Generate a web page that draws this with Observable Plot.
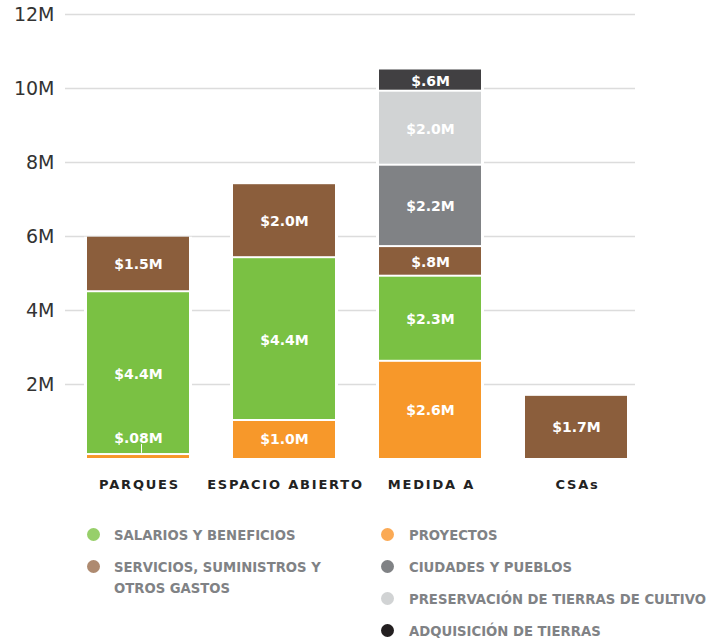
<!DOCTYPE html>
<html><head><meta charset="utf-8">
<script src="https://cdn.jsdelivr.net/npm/d3@7"></script>
<script src="https://cdn.jsdelivr.net/npm/@observablehq/plot@0.6"></script>
<style>
body{margin:0;background:#fff;}
#chart svg g[aria-label="x-axis tick label"]{letter-spacing:1.8px;}
.legend{position:relative;height:139px;width:708px;font-family:"DejaVu Sans Condensed","DejaVu Sans",sans-serif;font-weight:bold;font-size:14.7px;color:#808285;}
.ltext{position:absolute;white-space:pre;line-height:21px;}
.dot{position:absolute;width:13px;height:13px;border-radius:50%;}
</style></head>
<body><div id="chart"></div><div class="legend" id="legend"></div>
<script>
const categories = ["PARQUES", "ESPACIO ABIERTO", "MEDIDA A", "CSAs"];
const series = ["PROYECTOS", "SALARIOS Y BENEFICIOS", "SERVICIOS, SUMINISTROS Y OTROS GASTOS", "CIUDADES Y PUEBLOS", "PRESERVACIÓN DE TIERRAS DE CULTIVO", "ADQUISICIÓN DE TIERRAS"];
const barColors = ["#F7982A", "#7AC143", "#8B5E3C", "#808285", "#D1D3D4", "#414042"];
const legendColors = ["#FBAA55", "#97CF6A", "#AE8A70", "#808285", "#D1D3D4", "#231F20"];
// values in millions, per category (same order as categories)
const proyectos    = [0.08, 1.0, 2.6, 0];
const salarios     = [4.4, 4.4, 2.3, 0];
const servicios    = [1.5, 2.0, 0.8, 1.68];
const ciudades     = [0, 0, 2.2, 0];
const preservacion = [0, 0, 2.0, 0];
const adquisicion  = [0, 0, 0.6, 0];
const proyectosLbl    = ["$.08M", "$1.0M", "$2.6M", ""];
const salariosLbl     = ["$4.4M", "$4.4M", "$2.3M", ""];
const serviciosLbl    = ["$1.5M", "$2.0M", "$.8M", "$1.7M"];
const ciudadesLbl     = ["", "", "$2.2M", ""];
const preservacionLbl = ["", "", "$2.0M", ""];
const adquisicionLbl  = ["", "", "$.6M", ""];
const yTicks = [2, 4, 6, 8, 10, 12];

const seriesValues = [proyectos, salarios, servicios, ciudades, preservacion, adquisicion];
const seriesLabels = [proyectosLbl, salariosLbl, serviciosLbl, ciudadesLbl, preservacionLbl, adquisicionLbl];

const rows = [];
const totals = [];
categories.forEach((cat, j) => {
  let base = 0;
  seriesValues.forEach((vals, i) => {
    const v = vals[j];
    if (v > 0) {
      rows.push({cat, series: series[i], v, y1: base, y2: base + v, mid: base + v / 2, label: seriesLabels[i][j]});
      base += v;
    }
  });
  totals.push({cat, total: base});
});

const plot = Plot.plot({
  width: 708,
  height: 500,
  marginTop: 14,
  marginBottom: 42,
  marginLeft: 65,
  marginRight: 58,
  style: {fontFamily: "DejaVu Sans, sans-serif", background: "#fff"},
  x: {domain: categories, paddingInner: 0.3, paddingOuter: 0.143, label: null},
  y: {domain: [0, 12], label: null},
  color: {domain: series, range: barColors},
  marks: [
    Plot.ruleY(yTicks, {stroke: "#dcdcdc", strokeWidth: 1.5, insetRight: 15}),
    Plot.barY(totals, {x: "cat", y1: 0, y2: "total", fill: "white", insetLeft: -3, insetRight: -3}),
    Plot.barY(rows.filter(d => d.y1 === 0), {x: "cat", y1: "y1", y2: "y2", fill: "series"}),
    Plot.barY(rows.filter(d => d.y1 > 0), {x: "cat", y1: "y1", y2: "y2", fill: "series", insetBottom: 2}),
    Plot.text(rows.filter(d => d.v >= 0.3), {x: "cat", y: "mid", text: "label", fill: "white", fontSize: 14, fontWeight: "bold"}),
    Plot.text(rows.filter(d => d.v < 0.3), {x: "cat", y: "mid", text: "label", fill: "white", fontSize: 14, fontWeight: "bold", dy: -19}),
    Plot.ruleX(rows.filter(d => d.v < 0.3), {x: "cat", y1: d => d.y2 + 0.06, y2: d => d.y2 + 0.3, stroke: "white", strokeWidth: 1, dx: 3}),
    Plot.axisY({ticks: yTicks, tickFormat: d => d + "M", tickSize: 0, tickPadding: 11, fontSize: 19, fill: "#333"}),
    Plot.axisX({tickSize: 0, tickPadding: 21, fontSize: 13, fontWeight: "bold", fill: "#222", dx: 1})
  ]
});
document.getElementById("chart").appendChild(plot);

// legend
const legendItems = [
  {text: "SALARIOS Y BENEFICIOS", color: legendColors[1], col: 0, row: 0},
  {text: "SERVICIOS, SUMINISTROS Y\nOTROS GASTOS", color: legendColors[2], col: 0, row: 1},
  {text: "PROYECTOS", color: legendColors[0], col: 1, row: 0},
  {text: "CIUDADES Y PUEBLOS", color: legendColors[3], col: 1, row: 1},
  {text: "PRESERVACIÓN DE TIERRAS DE CULTIVO", color: legendColors[4], col: 1, row: 2},
  {text: "ADQUISICIÓN DE TIERRAS", color: legendColors[5], col: 1, row: 3}
];
const leg = document.getElementById("legend");
const colDot = [93, 387], colText = [114, 409];
legendItems.forEach(it => {
  const cy = 34 + it.row * 32;
  const dot = document.createElement("div");
  dot.className = "dot";
  dot.style.background = it.color;
  dot.style.left = (colDot[it.col] - 6.5) + "px";
  dot.style.top = (cy - 6.5) + "px";
  leg.appendChild(dot);
  const t = document.createElement("div");
  t.className = "ltext";
  t.textContent = it.text;
  t.style.left = colText[it.col] + "px";
  t.style.top = (cy - 10.5) + "px";
  leg.appendChild(t);
});
</script>
</body></html>
